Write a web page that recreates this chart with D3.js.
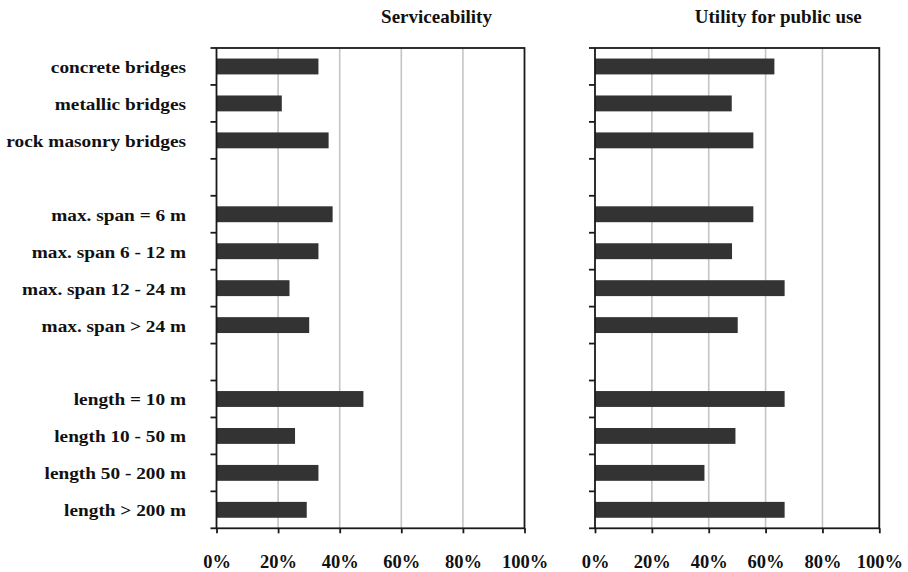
<!DOCTYPE html>
<html>
<head>
<meta charset="utf-8">
<script src="https://cdn.jsdelivr.net/npm/d3@7"></script>
<style>
  html, body { margin: 0; padding: 0; background: #fff; }
  svg { display: block; }
  text { font-family: "Liberation Serif", "Times New Roman", serif; font-weight: bold; fill: #111; }
</style>
</head>
<body>
<svg id="chart" width="908" height="572"></svg>
<script>
// Row labels; empty strings are spacer rows between the three groups
const categories = [
  "concrete bridges", "metallic bridges", "rock masonry bridges", "",
  "max. span = 6 m", "max. span 6 - 12 m", "max. span 12 - 24 m", "max. span > 24 m", "",
  "length = 10 m", "length 10 - 50 m", "length 50 - 200 m", "length > 200 m"
];
// Shares in percent (null on spacer rows)
const serviceability = [33.1, 21.2, 36.4, null, 37.7, 33.1, 23.7, 30.1, null, 47.7, 25.5, 33.1, 29.3];
const publicUse      = [63.1, 48.1, 55.7, null, 55.7, 48.2, 66.7, 50.2, null, 66.7, 49.4, 38.5, 66.7];
const tickValues = [0, 20, 40, 60, 80, 100];
const tickLabels = ["0%", "20%", "40%", "60%", "80%", "100%"];
const panelTitles = ["Serviceability", "Utility for public use"];

const svg = d3.select("#chart");
const plotTop = 48, plotBottom = 528.3;
const idx = categories.map((_, i) => i);

// Slot scale (row boundaries) and bar scale (bars inside rows)
const slot = d3.scaleBand().domain(idx).range([plotTop, plotBottom]).padding(0);
const yBar = d3.scaleBand().domain(idx).range([plotTop, plotBottom]).paddingInner(0.57).paddingOuter(0.285);

const panels = [
  { values: serviceability, x0: 216.5, x1: 524.5, title: panelTitles[0], titleX: 436.5 },
  { values: publicUse,      x0: 595,   x1: 879.3, title: panelTitles[1], titleX: 778.3 }
];

panels.forEach(p => {
  const x = d3.scaleLinear().domain([0, 100]).range([p.x0, p.x1]);
  const g = svg.append("g");

  // vertical gridlines
  g.selectAll("line.grid").data(tickValues.filter(v => v > 0 && v < 100)).join("line")
    .attr("class", "grid")
    .attr("x1", d => x(d)).attr("x2", d => x(d))
    .attr("y1", plotTop).attr("y2", plotBottom)
    .attr("stroke", "#c4c4c4").attr("stroke-width", 1.6);

  // bars
  const rows = p.values.map((v, i) => ({ i, v })).filter(d => d.v != null);
  g.selectAll("rect.bar").data(rows).join("rect")
    .attr("class", "bar")
    .attr("x", x(0))
    .attr("y", d => yBar(d.i))
    .attr("width", d => x(d.v) - x(0))
    .attr("height", yBar.bandwidth())
    .attr("fill", "#333333");

  // frame
  g.append("rect")
    .attr("x", x(0)).attr("y", plotTop)
    .attr("width", x(100) - x(0)).attr("height", plotBottom - plotTop)
    .attr("fill", "none").attr("stroke", "#1a1a1a").attr("stroke-width", 1.8);

  // y ticks at row boundaries
  const bounds = idx.map(i => slot(i)).concat([plotBottom]);
  g.selectAll("line.ytick").data(bounds).join("line")
    .attr("class", "ytick")
    .attr("x1", x(0) - 6).attr("x2", x(0))
    .attr("y1", d => d).attr("y2", d => d)
    .attr("stroke", "#1a1a1a").attr("stroke-width", 1.8);

  // x axis ticks and labels
  const xAxis = d3.axisBottom(x).tickValues(tickValues)
    .tickFormat((d, i) => tickLabels[i]).tickSize(5).tickPadding(22);
  const ax = g.append("g").attr("transform", `translate(0,${plotBottom})`).call(xAxis);
  ax.select(".domain").remove();
  ax.selectAll(".tick line").attr("stroke", "#1a1a1a").attr("stroke-width", 1.8);
  ax.selectAll(".tick text")
    .attr("font-family", "Liberation Serif").attr("font-weight", "bold")
    .attr("font-size", 18.5).attr("fill", "#111");

  // panel title
  g.append("text")
    .attr("x", p.titleX).attr("y", 23)
    .attr("text-anchor", "middle")
    .attr("font-size", 19)
    .text(p.title);
});

// category labels (left panel only)
svg.append("g").selectAll("g.lab")
  .data(categories.map((c, i) => ({ c, i })).filter(d => d.c))
  .join("g")
  .attr("transform", d => `translate(186,${slot(d.i) + slot.bandwidth() / 2 + 6.5}) scale(1.17,1)`)
  .append("text")
  .attr("text-anchor", "end")
  .attr("font-size", 16.5)
  .text(d => d.c);
</script>
</body>
</html>
